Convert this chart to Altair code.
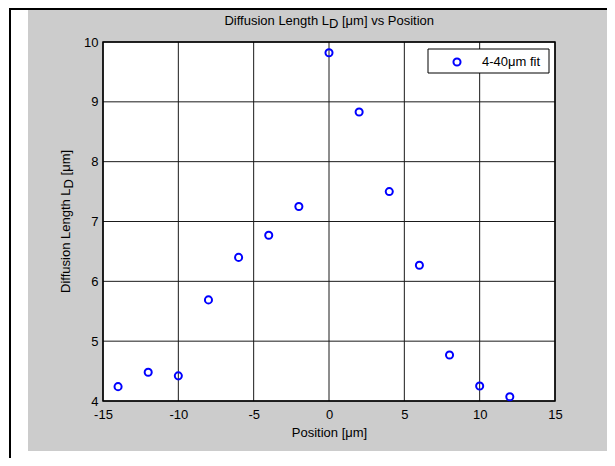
import altair as alt
import pandas as pd

# ---- data ----
position = [-14, -12, -10, -8, -6, -4, -2, 0, 2, 4, 6, 8, 10, 12]
diff_len = [4.24, 4.48, 4.42, 5.69, 6.40, 6.77, 7.25, 9.82, 8.83, 7.50, 6.27, 4.77, 4.25, 4.07]
x_ticks = [-15, -10, -5, 0, 5, 10, 15]
y_ticks = [4, 5, 6, 7, 8, 9, 10]
series_label = "4-40μm fit"
title_parts = ["Diffusion Length L", "D", "[μm] vs Position"]
ylabel_parts = ["Diffusion Length L", "D", "[μm]"]
xlabel = "Position [μm]"

W, H = 452, 359
FONT = "Arial"
FS = 13
BLUE = "#0000ff"
GRAY = "#cccccc"
SP = 3.6  # width of a space at 13px

df = pd.DataFrame({"position": position, "ld": diff_len})
xt = pd.DataFrame({"position": x_ticks})
yt = pd.DataFrame({"ld": y_ticks})
one = alt.Data(values=[{"k": 0}])

xscale = alt.Scale(domain=[-15, 15], nice=False, zero=False)
yscale = alt.Scale(domain=[4, 10], nice=False, zero=False)

xaxis = alt.Axis(values=x_ticks, title=xlabel, grid=False, domain=False,
                 ticks=False, labelPadding=7, labelFont=FONT, labelFontSize=FS,
                 labelColor="black", titleFont=FONT, titleFontSize=FS,
                 titleFontWeight="normal", titleColor="black", titlePadding=5,
                 labelFlush=False, labelExpr="'' + datum.value", zindex=1)
yaxis = alt.Axis(values=y_ticks, title=None, grid=False, domain=False,
                 ticks=False, labelPadding=5, labelFont=FONT, labelFontSize=FS,
                 labelColor="black", labelFlush=False, labelExpr="'' + datum.value",
                 zindex=1)
X = alt.X("position:Q", scale=xscale, axis=xaxis)
Y = alt.Y("ld:Q", scale=yscale, axis=yaxis)


def rect(x, x2, y, y2, fill, stroke=None, sw=1):
    kw = {"fill": fill}
    if stroke:
        kw.update(stroke=stroke, strokeWidth=sw)
    return alt.Chart(one).mark_rect(**kw).encode(
        x=alt.value(x), x2=alt.value(x2), y=alt.value(y), y2=alt.value(y2)
    )


def txt(s, x, y, align="left", baseline="alphabetic", angle=0):
    return alt.Chart(one).mark_text(
        text=s, align=align, baseline=baseline, angle=angle,
        font=FONT, fontSize=FS, color="black"
    ).encode(x=alt.value(x), y=alt.value(y))


# figure background pieces
gray_bg = rect(-75, 504, -32, 409, GRAY)
black_top = rect(-94, 504, -34, -32, "black")
black_left = rect(-94, -92, -34, 420, "black")
white_area = rect(0, W, 0, H, "white")

# grid lines through the scales
vgrid = alt.Chart(xt).mark_rule(color="#1a1a1a", strokeWidth=1).encode(
    x=X, y=alt.value(0), y2=alt.value(H)
)
hgrid = alt.Chart(yt).mark_rule(color="#1a1a1a", strokeWidth=1).encode(
    y=Y, x=alt.value(0), x2=alt.value(W)
)
box = alt.Chart(one).mark_rect(fill=None, stroke="black", strokeWidth=1.5).encode(
    x=alt.value(0), x2=alt.value(W), y=alt.value(0), y2=alt.value(H)
)

points = alt.Chart(df).mark_point(
    shape="circle", filled=False, color=BLUE, size=50, strokeWidth=2, opacity=1
).encode(x=X, y=Y)

# legend box
leg_box = rect(325, 446, 7, 31, "white", stroke="black", sw=1)
leg_sym = alt.Chart(one).mark_point(
    shape="circle", filled=False, color=BLUE, size=50, strokeWidth=2, opacity=1
).encode(x=alt.value(354), y=alt.value(20))
leg_txt = txt(series_label, 379, 20, baseline="middle")

# title with subscript
t1 = txt(title_parts[0], 226, -17, align="right")
t2 = txt(title_parts[1], 226, -14, align="left")
t3 = txt(title_parts[2], 235.4 + SP, -17, align="left")

# y label with subscript (rotated)
y1 = txt(ylabel_parts[0], -33, 146.4, align="right", angle=270)
y2 = txt(ylabel_parts[1], -30, 146.4, align="left", angle=270)
y3 = txt(ylabel_parts[2], -33, 137.0 - SP, align="left", angle=270)

chart = alt.layer(
    gray_bg, black_top, black_left, white_area, vgrid, hgrid, box, points,
    leg_box, leg_sym, leg_txt, t1, t2, t3, y1, y2, y3
).properties(
    width=W, height=H,
    padding={"left": 95, "top": 34, "right": 52, "bottom": 57},
    autosize=alt.AutoSizeParams(type="none"),
    background="white",
).configure_view(stroke=None)

chart.save("out.html", embed_options={"renderer": "svg", "actions": False})
